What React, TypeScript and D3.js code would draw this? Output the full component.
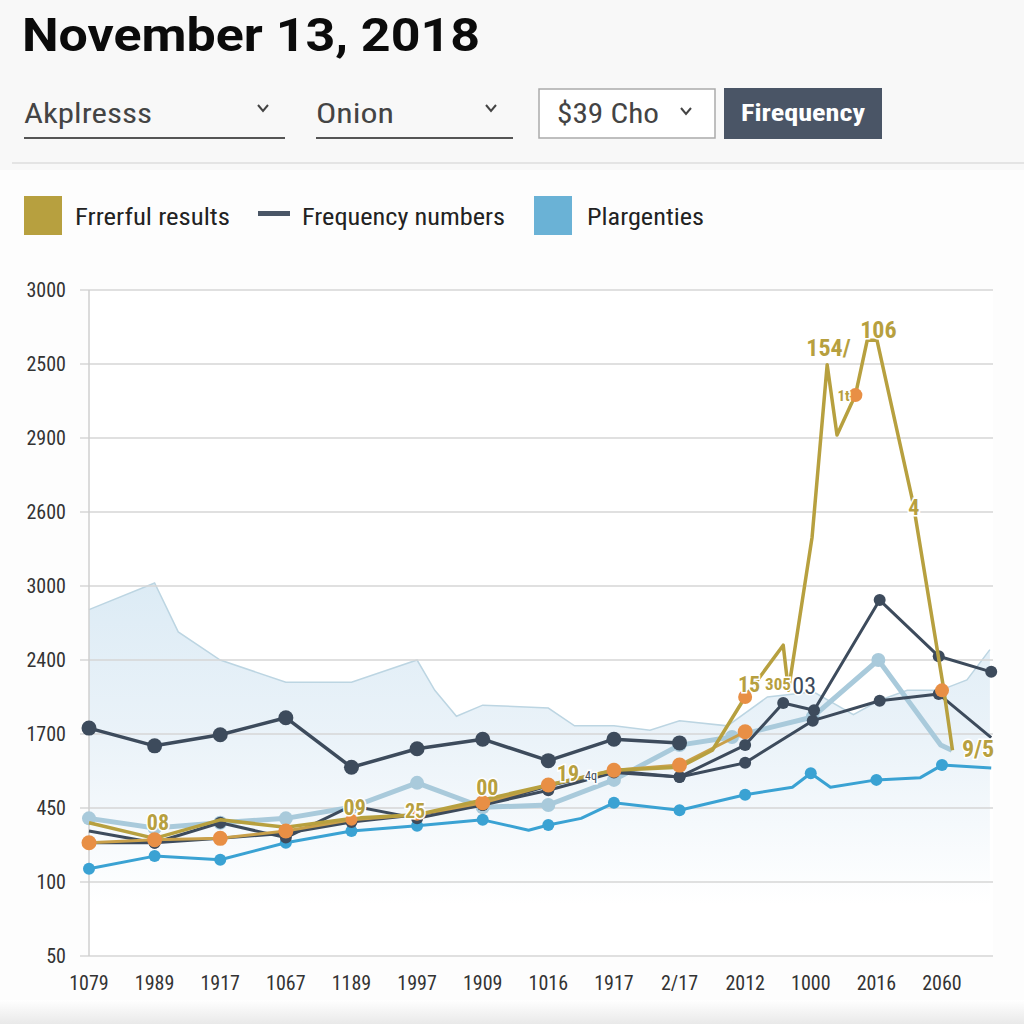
import React from "react";
import * as d3 from "d3";

// ---------- data ----------
const titleText = "November 13, 2018";
const dropdownLabels = ["Akplresss", "Onion", "$39 Cho"];
const buttonLabel = "Firequency";
const legendLabels = ["Frrerful results", "Frequency numbers", "Plargenties"];

// y tick labels, bottom (level 0) to top (level 9)
const yTickLabels = ["50", "100", "450", "1700", "2400", "3000", "2600", "2900", "2500", "3000"];
const xLabels = ["1079", "1989", "1917", "1067", "1189", "1997", "1909", "1016", "1917", "2/17", "2012", "1000", "2016", "2060"];

// series: [x position (category index), level]
const plargentiesArea: [number, number][] = [
  [0, 4.68], [1, 5.04], [1.36, 4.38], [2, 4.0], [3, 3.7], [4, 3.7], [5, 4.0], [5.27, 3.59],
  [5.6, 3.24], [6, 3.39], [7, 3.35], [7.4, 3.11], [8, 3.11], [8.55, 3.05], [9, 3.18], [9.73, 3.11],
  [10.34, 3.5], [11.04, 3.57], [11.65, 3.26], [12.06, 3.46], [12.47, 3.59], [12.97, 3.59],
  [13.38, 3.73], [13.73, 4.14],
];
const frequencyUpper: [number, number][] = [
  [0, 3.08], [1, 2.84], [2, 2.99], [3, 3.22], [4, 2.55], [5, 2.8], [6, 2.93], [7, 2.64], [8, 2.93], [9, 2.88],
];
const frequencyMid: [number, number][] = [
  [0, 1.69], [1, 1.53], [2, 1.8], [3, 1.6], [4, 2.03], [5, 1.86], [6, 2.04], [7, 2.24], [8, 2.48],
  [9, 2.42], [10, 2.61], [11.03, 3.18], [12.05, 3.45], [12.95, 3.54], [13.75, 2.95],
];
const frequencyLower: [number, number][] = [
  [0, 1.53], [1, 1.53], [2, 1.59], [3, 1.66], [4, 1.81], [5, 1.91], [6, 2.04], [7, 2.3], [8, 2.5],
  [9, 2.42], [10, 2.85], [10.58, 3.42], [11.05, 3.32], [12.05, 4.81], [12.95, 4.05], [13.75, 3.84],
];
const plargentiesThick: [number, number][] = [
  [0, 1.86], [1, 1.73], [2, 1.8], [3, 1.86], [4, 2.01], [5, 2.34], [6, 2.01], [7, 2.04], [8, 2.38],
  [9, 2.85], [9.8, 2.96], [11.03, 3.23], [12.03, 4.0], [12.98, 2.85], [13.15, 2.78],
];
const plargentiesThin: [number, number][] = [
  [0, 1.18], [1, 1.35], [2, 1.3], [3, 1.53], [4, 1.69], [5, 1.76], [6, 1.84], [6.7, 1.7], [7, 1.77],
  [7.5, 1.86], [8, 2.07], [9, 1.97], [10, 2.18], [10.72, 2.28], [11, 2.47], [11.3, 2.28], [12, 2.38],
  [12.67, 2.41], [13, 2.58], [13.75, 2.54],
];
const frerfulResults: [number, number][] = [
  [0, 1.8], [1, 1.59], [2, 1.84], [3, 1.74], [4, 1.86], [5, 1.91], [6, 2.11], [7, 2.31], [8, 2.51],
  [9, 2.55], [9.5, 2.78], [10, 3.5], [10.58, 4.2], [10.66, 3.59], [11.02, 5.66], [11.25, 7.99],
  [11.4, 7.04], [11.68, 7.58], [11.86, 8.32], [12.01, 8.32], [12.56, 6.12], [13.02, 3.64], [13.16, 2.78],
];
const orangeLine: [number, number][] = [
  [0, 1.53], [1, 1.57], [2, 1.59], [3, 1.69], [4, 1.84], [5, 1.91], [6, 2.07], [7, 2.31], [8, 2.51],
  [9, 2.58], [10, 3.03],
];
const orangeExtraDots: [number, number][] = [[10, 3.5], [11.68, 7.58], [13.0, 3.59]];
const frequencyUpperDots = [0, 1, 2, 3, 4, 5, 6, 7, 8, 9];

const goldLabels: { t: string; x: number; v: number; s: number }[] = [
  { t: "08", x: 1.05, v: 1.7, s: 22 },
  { t: "09", x: 4.05, v: 1.91, s: 22 },
  { t: "25", x: 4.97, v: 1.86, s: 20 },
  { t: "00", x: 6.07, v: 2.18, s: 22 },
  { t: "19", x: 7.3, v: 2.36, s: 22 },
  { t: "15", x: 10.06, v: 3.57, s: 22 },
  { t: "305", x: 10.5, v: 3.6, s: 17 },
  { t: "154/", x: 11.27, v: 8.11, s: 24 },
  { t: "106", x: 12.03, v: 8.35, s: 24 },
  { t: "1t", x: 11.5, v: 7.5, s: 15 },
  { t: "4", x: 12.57, v: 5.96, s: 22 },
  { t: "9/5", x: 13.55, v: 2.69, s: 24 },
];
const navyLabels: { t: string; x: number; v: number; s: number }[] = [
  { t: "03", x: 10.9, v: 3.54, s: 24 },
  { t: "4q", x: 7.65, v: 2.38, s: 12 },
];

// ---------- styles ----------
const FONT = "'Liberation Sans Narrow', 'Roboto Condensed', Roboto, sans-serif";
const GOLD = "#b7a03f";
const NAVY = "#3d4b5c";
const LBLUE = "#a9cadb";
const BLUE = "#3aa2d3";
const ORANGE = "#e88f45";

export default function App() {
  const x = d3.scaleLinear().domain([0, 13]).range([89, 942]);
  const y = d3.scaleLinear().domain([0, 9]).range([956, 290]);
  const line = d3.line<[number, number]>().x((d) => x(d[0])).y((d) => y(d[1]));
  const area = d3
    .area<[number, number]>()
    .x((d) => x(d[0]))
    .y0(y(0.2))
    .y1((d) => y(d[1]));

  const chevron = (cx: number, cy: number) => (
    <path d={`M${cx - 5},${cy - 4} L${cx},${cy + 2} L${cx + 5},${cy - 4}`} fill="none" stroke="#444" strokeWidth={2} />
  );

  return (
    <svg width={1024} height={1024} style={{ position: "absolute", left: 0, top: 0 }} fontFamily={FONT}>
      <defs>
        <linearGradient id="areaGrad" gradientUnits="userSpaceOnUse" x1={0} y1={580} x2={0} y2={905}>
          <stop offset="0" stopColor="#dcebf5" />
          <stop offset="0.5" stopColor="#ebf3f9" />
          <stop offset="1" stopColor="#ffffff" />
        </linearGradient>
        <linearGradient id="bottomGrad" x1={0} y1={0} x2={0} y2={1}>
          <stop offset="0" stopColor="#ffffff" />
          <stop offset="1" stopColor="#e9e9e9" />
        </linearGradient>
      </defs>
      <rect width={1024} height={1024} fill="#f8f8f8" />
      <rect x={0} y={170} width={1024} height={830} fill="#fdfdfd" />
      <rect x={0} y={1000} width={1024} height={24} fill="url(#bottomGrad)" />

      {/* title */}
      <text x={22} y={51} fontSize={46} fontWeight={700} fill="#0b0b0b" fontFamily="Roboto, sans-serif" textLength={458} lengthAdjust="spacingAndGlyphs">
        {titleText}
      </text>

      {/* controls */}
      <text x={24} y={123} fontSize={28} fill="#444" textLength={128} lengthAdjust="spacingAndGlyphs">{dropdownLabels[0]}</text>
      {chevron(263, 109)}
      <line x1={24} x2={285} y1={138} y2={138} stroke="#555" strokeWidth={2} />
      <text x={316} y={123} fontSize={28} fill="#444" textLength={78} lengthAdjust="spacingAndGlyphs">{dropdownLabels[1]}</text>
      {chevron(491, 109)}
      <line x1={316} x2={513} y1={138} y2={138} stroke="#555" strokeWidth={2} />
      <rect x={539} y={89} width={176} height={49} fill="#fff" stroke="#aaa" strokeWidth={1.5} />
      <text x={557} y={123} fontSize={28} fill="#444" textLength={102} lengthAdjust="spacingAndGlyphs">{dropdownLabels[2]}</text>
      {chevron(686, 112)}
      <rect x={724} y={88} width={158} height={51} fill="#4a5566" />
      <text x={803} y={121} fontSize={23} fontWeight={700} fill="#fff" textAnchor="middle" textLength={124} lengthAdjust="spacingAndGlyphs">
        {buttonLabel}
      </text>
      <line x1={12} x2={1024} y1={163} y2={163} stroke="#e4e4e4" strokeWidth={2} />

      {/* legend */}
      <rect x={24} y={196} width={38} height={39} fill={GOLD} />
      <text x={75} y={225} fontSize={23} fill="#222" textLength={155} lengthAdjust="spacingAndGlyphs">{legendLabels[0]}</text>
      <rect x={258} y={211} width={32} height={5} fill="#4a5666" />
      <text x={302} y={225} fontSize={23} fill="#222" textLength={203} lengthAdjust="spacingAndGlyphs">{legendLabels[1]}</text>
      <rect x={534} y={196} width={38} height={39} fill="#6ab2d6" />
      <text x={587} y={225} fontSize={23} fill="#222" textLength={117} lengthAdjust="spacingAndGlyphs">{legendLabels[2]}</text>

      {/* plot background */}
      <rect x={89} y={290} width={904} height={666} fill="#ffffff" />
      <path d={area(plargentiesArea) || ""} fill="url(#areaGrad)" />
      <path d={line(plargentiesArea) || ""} fill="none" stroke="#bcd5e2" strokeWidth={1.5} />

      {/* grid + y axis */}
      {yTickLabels.map((t, i) => (
        <g key={i}>
          <line x1={80} x2={993} y1={y(i)} y2={y(i)} stroke="#d6d6d6" strokeWidth={1.5} />
          <text x={66} y={y(i) + 7} fontSize={20} fill="#333" textAnchor="end">{t}</text>
        </g>
      ))}
      <line x1={89} x2={89} y1={290} y2={956} stroke="#cfcfcf" strokeWidth={1.5} />
      {xLabels.map((t, i) => (
        <text key={i} x={x(i)} y={990} fontSize={20} fill="#333" textAnchor="middle">{t}</text>
      ))}

      {/* series */}
      <path d={line(plargentiesThick) || ""} fill="none" stroke={LBLUE} strokeWidth={5} strokeLinejoin="round" />
      {plargentiesThick.slice(0, 13).map((d, i) => (
        <circle key={i} cx={x(d[0])} cy={y(d[1])} r={7} fill={LBLUE} />
      ))}
      <path d={line(plargentiesThin) || ""} fill="none" stroke={BLUE} strokeWidth={3} strokeLinejoin="round" />
      {plargentiesThin.filter((d) => Number.isInteger(d[0])).map((d, i) => (
        <circle key={i} cx={x(d[0])} cy={y(d[1])} r={6} fill={BLUE} />
      ))}
      <path d={line(frequencyMid) || ""} fill="none" stroke={NAVY} strokeWidth={3} strokeLinejoin="round" />
      {frequencyMid.map((d, i) => (
        <circle key={i} cx={x(d[0])} cy={y(d[1])} r={i === 0 || i === 14 ? 0 : 6} fill={NAVY} />
      ))}
      <path d={line(frequencyLower) || ""} fill="none" stroke={NAVY} strokeWidth={3} strokeLinejoin="round" />
      {frequencyLower.map((d, i) => (
        <circle key={i} cx={x(d[0])} cy={y(d[1])} r={i === 0 ? 0 : 6} fill={NAVY} />
      ))}
      <path d={line(frequencyUpper) || ""} fill="none" stroke={NAVY} strokeWidth={3.5} strokeLinejoin="round" />
      {frequencyUpperDots.map((i) => (
        <circle key={i} cx={x(frequencyUpper[i][0])} cy={y(frequencyUpper[i][1])} r={7.5} fill={NAVY} />
      ))}
      <path d={line(orangeLine) || ""} fill="none" stroke="#c9a04a" strokeWidth={3} strokeLinejoin="round" />
      <path d={line(frerfulResults) || ""} fill="none" stroke={GOLD} strokeWidth={3.5} strokeLinejoin="round" />
      {orangeLine.map((d, i) => (
        <circle key={i} cx={x(d[0])} cy={y(d[1])} r={i === 4 || i === 5 ? 6 : 7.5} fill={ORANGE} />
      ))}
      {orangeExtraDots.map((d, i) => (
        <circle key={i} cx={x(d[0])} cy={y(d[1])} r={7} fill={ORANGE} />
      ))}

      {/* data labels */}
      {goldLabels.map((l, i) => (
        <text key={i} x={x(l.x)} y={y(l.v)} fontSize={l.s} fill={GOLD} textAnchor="middle" fontWeight={700}
          stroke="#fff" strokeWidth={3} paintOrder="stroke">{l.t}</text>
      ))}
      {navyLabels.map((l, i) => (
        <text key={i} x={x(l.x)} y={y(l.v)} fontSize={l.s} fill={NAVY} textAnchor="middle"
          stroke="#fff" strokeWidth={3} paintOrder="stroke">{l.t}</text>
      ))}
    </svg>
  );
}
